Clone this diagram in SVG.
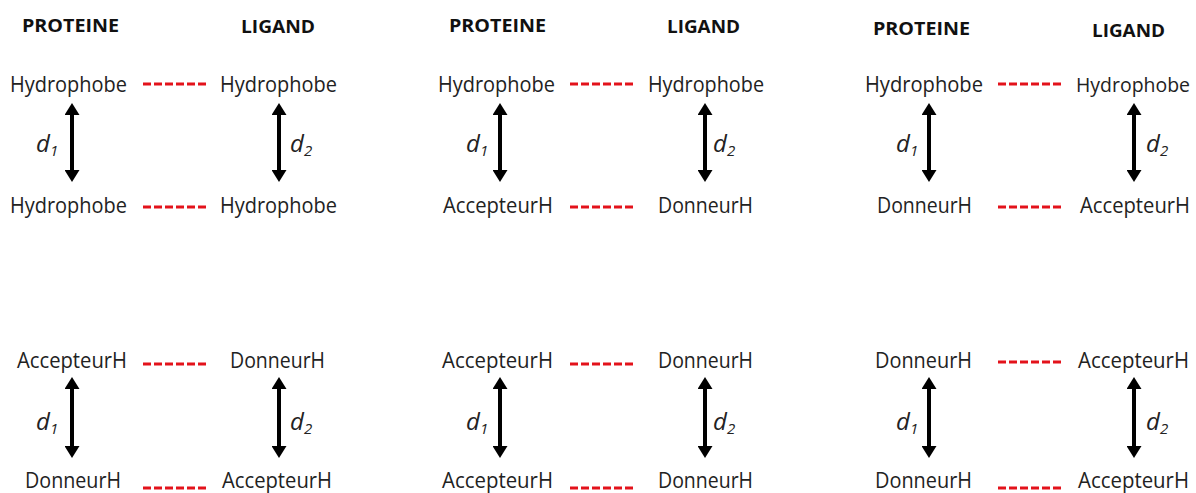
<svg xmlns="http://www.w3.org/2000/svg" width="1196" height="493" viewBox="0 0 1196 493">
<defs>
<marker id="ah" markerUnits="userSpaceOnUse" markerWidth="12" markerHeight="15" refX="0" refY="7.5" orient="auto-start-reverse">
<path d="M0,0 L12,7.5 L0,15 z" fill="#000"/>
</marker>
</defs>
<style>
.t{font-family:"Open Sans","Liberation Sans",sans-serif;font-size:21px;fill:#222}
.h{font-family:"Open Sans","Liberation Sans",sans-serif;font-size:18px;font-weight:bold;fill:#111}
.d{font-family:"Open Sans","Liberation Sans",sans-serif;font-size:24px;font-style:italic;fill:#222}
.s{font-size:15px}
.dash{stroke:#e3121b;stroke-width:3;stroke-dasharray:8 3;fill:none}
.arr{stroke:#000;stroke-width:4;marker-start:url(#ah);marker-end:url(#ah)}
</style>
<rect width="1196" height="493" fill="#fff"/>
<g id="headers">
<text class="h" x="22" y="32" textLength="97" lengthAdjust="spacingAndGlyphs">PROTEINE</text>
<text class="h" x="241" y="33" textLength="74" lengthAdjust="spacingAndGlyphs">LIGAND</text>
<text class="h" x="449" y="32" textLength="97" lengthAdjust="spacingAndGlyphs">PROTEINE</text>
<text class="h" x="667" y="33" textLength="73" lengthAdjust="spacingAndGlyphs">LIGAND</text>
<text class="h" x="873" y="35" textLength="97" lengthAdjust="spacingAndGlyphs">PROTEINE</text>
<text class="h" x="1092" y="37" textLength="73" lengthAdjust="spacingAndGlyphs">LIGAND</text>
</g>
<g id="panel1-top">
<g id="p1a-prot1"><text class="t" x="10" y="92" textLength="117" lengthAdjust="spacingAndGlyphs">Hydrophobe</text></g>
<g id="p1a-lig1"><text class="t" x="220" y="92" textLength="117" lengthAdjust="spacingAndGlyphs">Hydrophobe</text></g>
<g id="p1a-prot2"><text class="t" x="10" y="213" textLength="117" lengthAdjust="spacingAndGlyphs">Hydrophobe</text></g>
<g id="p1a-lig2"><text class="t" x="220" y="213" textLength="117" lengthAdjust="spacingAndGlyphs">Hydrophobe</text></g>
</g>
<g id="panel2-top">
<g id="p2a-prot1"><text class="t" x="438" y="92" textLength="117" lengthAdjust="spacingAndGlyphs">Hydrophobe</text></g>
<g id="p2a-lig1"><text class="t" x="648" y="92" textLength="116" lengthAdjust="spacingAndGlyphs">Hydrophobe</text></g>
<g id="p2a-prot2"><text class="t" x="443" y="213" textLength="110" lengthAdjust="spacingAndGlyphs">AccepteurH</text></g>
<g id="p2a-lig2"><text class="t" x="658" y="213" textLength="95" lengthAdjust="spacingAndGlyphs">DonneurH</text></g>
</g>
<g id="panel3-top">
<g id="p3a-prot1"><text class="t" x="865" y="92" textLength="118" lengthAdjust="spacingAndGlyphs">Hydrophobe</text></g>
<g id="p3a-lig1"><text class="t" x="1076" y="92" style="font-size:19.5px" textLength="114" lengthAdjust="spacingAndGlyphs">Hydrophobe</text></g>
<g id="p3a-prot2"><text class="t" x="877" y="213" textLength="95" lengthAdjust="spacingAndGlyphs">DonneurH</text></g>
<g id="p3a-lig2"><text class="t" x="1080" y="213" textLength="110" lengthAdjust="spacingAndGlyphs">AccepteurH</text></g>
</g>
<g id="panel1-bottom">
<g id="p1b-prot1"><text class="t" x="17" y="368" textLength="110" lengthAdjust="spacingAndGlyphs">AccepteurH</text></g>
<g id="p1b-lig1"><text class="t" x="230" y="368" textLength="95" lengthAdjust="spacingAndGlyphs">DonneurH</text></g>
<g id="p1b-prot2"><text class="t" x="25" y="488" textLength="96" lengthAdjust="spacingAndGlyphs">DonneurH</text></g>
<g id="p1b-lig2"><text class="t" x="222" y="488" textLength="110" lengthAdjust="spacingAndGlyphs">AccepteurH</text></g>
</g>
<g id="panel2-bottom">
<g id="p2b-prot1"><text class="t" x="442" y="368" textLength="111" lengthAdjust="spacingAndGlyphs">AccepteurH</text></g>
<g id="p2b-lig1"><text class="t" x="658" y="368" textLength="95" lengthAdjust="spacingAndGlyphs">DonneurH</text></g>
<g id="p2b-prot2"><text class="t" x="442" y="488" textLength="111" lengthAdjust="spacingAndGlyphs">AccepteurH</text></g>
<g id="p2b-lig2"><text class="t" x="658" y="488" textLength="95" lengthAdjust="spacingAndGlyphs">DonneurH</text></g>
</g>
<g id="panel3-bottom">
<g id="p3b-prot1"><text class="t" x="875" y="368" textLength="97" lengthAdjust="spacingAndGlyphs">DonneurH</text></g>
<g id="p3b-lig1"><text class="t" x="1078" y="368" textLength="111" lengthAdjust="spacingAndGlyphs">AccepteurH</text></g>
<g id="p3b-prot2"><text class="t" x="875" y="488" textLength="97" lengthAdjust="spacingAndGlyphs">DonneurH</text></g>
<g id="p3b-lig2"><text class="t" x="1078" y="488" textLength="111" lengthAdjust="spacingAndGlyphs">AccepteurH</text></g>
</g>
<g id="distance-labels">
<text class="d" x="36" y="152">d<tspan class="s" dy="4">1</tspan></text>
<text class="d" x="290" y="152">d<tspan class="s" dy="4">2</tspan></text>
<text class="d" x="466" y="152">d<tspan class="s" dy="4">1</tspan></text>
<text class="d" x="713" y="152">d<tspan class="s" dy="4">2</tspan></text>
<text class="d" x="896" y="152">d<tspan class="s" dy="4">1</tspan></text>
<text class="d" x="1146" y="152">d<tspan class="s" dy="4">2</tspan></text>
<text class="d" x="36" y="430">d<tspan class="s" dy="4">1</tspan></text>
<text class="d" x="290" y="430">d<tspan class="s" dy="4">2</tspan></text>
<text class="d" x="466" y="430">d<tspan class="s" dy="4">1</tspan></text>
<text class="d" x="713" y="430">d<tspan class="s" dy="4">2</tspan></text>
<text class="d" x="896" y="430">d<tspan class="s" dy="4">1</tspan></text>
<text class="d" x="1146" y="430">d<tspan class="s" dy="4">2</tspan></text>
</g>
<g id="connectors">
<line class="dash" x1="143" y1="84" x2="206" y2="84"/>
<line class="dash" x1="143" y1="207" x2="206" y2="207"/>
<line class="dash" x1="570" y1="84" x2="633" y2="84"/>
<line class="dash" x1="570" y1="207" x2="633" y2="207"/>
<line class="dash" x1="998" y1="84" x2="1061" y2="84"/>
<line class="dash" x1="998" y1="207" x2="1061" y2="207"/>
<line class="dash" x1="143" y1="364" x2="206" y2="364"/>
<line class="dash" x1="143" y1="488" x2="206" y2="488"/>
<line class="dash" x1="570" y1="364" x2="633" y2="364"/>
<line class="dash" x1="570" y1="488" x2="633" y2="488"/>
<line class="dash" x1="998" y1="362" x2="1061" y2="362"/>
<line class="dash" x1="998" y1="488" x2="1061" y2="488"/>
<line class="arr" x1="72" y1="115" x2="72" y2="170"/>
<line class="arr" x1="279" y1="115" x2="279" y2="170"/>
<line class="arr" x1="500" y1="115" x2="500" y2="170"/>
<line class="arr" x1="705" y1="115" x2="705" y2="170"/>
<line class="arr" x1="929" y1="115" x2="929" y2="170"/>
<line class="arr" x1="1134" y1="115" x2="1134" y2="170"/>
<line class="arr" x1="72" y1="389" x2="72" y2="446"/>
<line class="arr" x1="279" y1="389" x2="279" y2="446"/>
<line class="arr" x1="500" y1="389" x2="500" y2="446"/>
<line class="arr" x1="705" y1="389" x2="705" y2="446"/>
<line class="arr" x1="929" y1="389" x2="929" y2="446"/>
<line class="arr" x1="1134" y1="389" x2="1134" y2="446"/>
</g>
</svg>
